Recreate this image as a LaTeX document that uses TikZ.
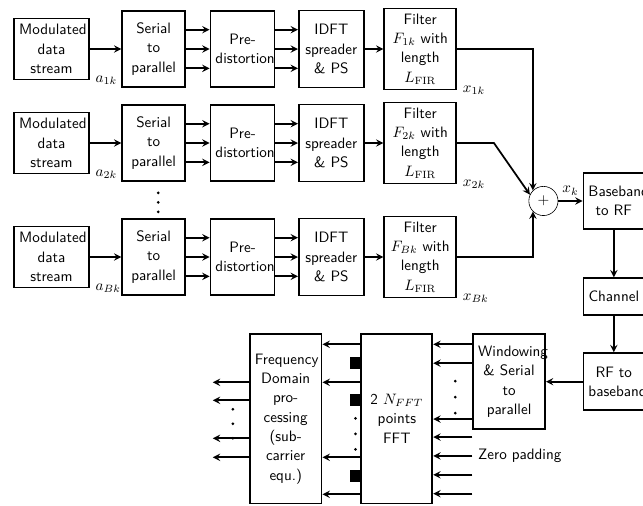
\documentclass[tikz,border=0pt]{standalone}
\usepackage{amsmath}
\usepackage{amssymb}
\usetikzlibrary{positioning}

\begin{document}
\begin{tikzpicture}[->,>=stealth,line width=1.15pt,node distance=2.07cm,font=\sffamily,
    box/.style 2 args={draw,rectangle,align=center,text width=#1,minimum height=#2,
      font=\sffamily\fontsize{10}{12.8}\selectfont},
    sum/.style={draw,thin,circle,minimum size=0.68cm,inner sep=0pt},
    sq/.style={fill,rectangle,minimum size=0.28cm,inner sep=0pt},
    lbl/.style={anchor=west}]
  \useasboundingbox (0,0) rectangle (14.98,-11.77);

  % branch 1
  \node[box={1.51cm}{1.42cm}] (mod1) at (1.2,-1.142) {Modulated\\data\\stream};
  \node[box={1.23cm}{1.77cm}] (sp1) [node distance=2.38cm,right of=mod1] {Serial\\to\\parallel};
  \node[box={1.26cm}{1.77cm}] (pre1) [right of=sp1] {Pre-\\distortion};
  \node[box={1.28cm}{1.79cm}] (idft1) [right of=pre1] {IDFT\\spreader\\\& PS};
  \node[box={1.44cm}{1.89cm}] (fil1) [right of=idft1] {Filter\\$F_{1k}$ with\\length\\$L_{\mathrm{FIR}}$};
  \node[lbl] (a1) at (mod1.south east) {$a_{1k}$};
  \node[lbl] (x1) at (fil1.south east) {$x_{1k}$};

  % branch 2
  \node[box={1.51cm}{1.42cm}] (mod2) [node distance=2.19cm,below of=mod1] {Modulated\\data\\stream};
  \node[box={1.23cm}{1.77cm}] (sp2) [node distance=2.38cm,right of=mod2] {Serial\\to\\parallel};
  \node[box={1.26cm}{1.77cm}] (pre2) [right of=sp2] {Pre-\\distortion};
  \node[box={1.28cm}{1.79cm}] (idft2) [right of=pre2] {IDFT\\spreader\\\& PS};
  \node[box={1.44cm}{1.89cm}] (fil2) [right of=idft2] {Filter\\$F_{2k}$ with\\length\\$L_{\mathrm{FIR}}$};
  \node[lbl] (a2) at (mod2.south east) {$a_{2k}$};
  \node[lbl] (x2) at (fil2.south east) {$x_{2k}$};

  % branch B
  \node[box={1.51cm}{1.42cm}] (mod3) [node distance=2.656cm,below of=mod2] {Modulated\\data\\stream};
  \node[box={1.23cm}{1.77cm}] (sp3) [node distance=2.38cm,right of=mod3] {Serial\\to\\parallel};
  \node[box={1.26cm}{1.77cm}] (pre3) [right of=sp3] {Pre-\\distortion};
  \node[box={1.28cm}{1.79cm}] (idft3) [right of=pre3] {IDFT\\spreader\\\& PS};
  \node[box={1.44cm}{1.89cm}] (fil3) [right of=idft3] {Filter\\$F_{Bk}$ with\\length\\$L_{\mathrm{FIR}}$};
  \node[lbl] (a3) at (mod3.south east) {$a_{Bk}$};
  \node[lbl] (x3) at (fil3.south east) {$x_{Bk}$};

  \foreach \r in {1,2,3}{
    \path (mod\r) edge (sp\r)
          (idft\r) edge (fil\r);
    \foreach \dy in {0.45,0,-0.45}{
      \draw ([yshift=\dy cm]sp\r.east) -- ([yshift=\dy cm]sp\r.east -| pre\r.west);
      \draw ([yshift=\dy cm]pre\r.east) -- ([yshift=\dy cm]pre\r.east -| idft\r.west);
    }
  }
  \foreach \dy in {-0.256,-0.478,-0.699}
    \fill[-] ([xshift=0.105cm,yshift=\dy cm]sp2.south) circle (1pt);

  % sum and RF chain
  \node[sum,xshift=2.87cm,yshift=-1.35cm] (sum) at (fil2) {$+$};
  \node[box={1.18cm}{1.3cm}] (bb) [node distance=1.64cm,right of=sum] {Baseband\\to RF};
  \node[box={1.18cm}{0.86cm}] (ch) [node distance=2.23cm,below of=bb] {Channel};
  \node[box={1.18cm}{1.33cm}] (rf) [node distance=1.98cm,below of=ch] {RF to\\baseband};
  \node[box={1.44cm}{2.21cm}] (win) [node distance=2.44cm,left of=rf] {Windowing\\\& Serial\\to\\parallel};
  \node[box={1.42cm}{3.94cm},anchor=north east] (fft) at ([xshift=-0.91cm]win.north west) {2 $N_{FFT}$\\points\\FFT};
  \node[box={1.44cm}{3.94cm}] (freq) [left=0.885cm of fft] {Frequency\\Domain\\pro-\\cessing\\(sub-\\carrier\\equ.)};

  \draw (fil1.east) -| (sum.north west);
  \draw (fil2.east) -- ++(0.86,0) -- (sum.155);
  \draw (fil3.east) -| (sum.south west);
  \path (sum) edge node[above] (xk) {$x_k$} (bb)
        (bb) edge (ch)
        (ch) edge (rf)
        (rf) edge (win);

  % receiver
  \foreach \dy in {0.87,0.43,-0.87}
    \draw ([yshift=\dy cm]win.west) -- ([yshift=\dy cm]win.west -| fft.east);
  \foreach \dy in {0.012,-0.361,-0.733}
    \fill[-] ([xshift=-0.396cm,yshift=\dy cm]win.west) circle (1pt);
  \foreach \dy in {-1.29,-1.73,-2.17,-2.61}
    \draw ([yshift=\dy cm]win.west) -- ([yshift=\dy cm]win.west -| fft.east);
  \node[right] (zp) at ([yshift=-1.73cm]win.west) {Zero padding};

  \foreach \dy in {1.736,0.85,-0.897,-1.759}
    \draw ([yshift=\dy cm]fft.west) -- ([yshift=\dy cm]fft.west -| freq.east);
  \node[sq] (sq1) at ([xshift=-0.093cm,yshift=1.293cm]fft.west) {};
  \node[sq] (sq2) at ([xshift=-0.093cm,yshift=0.431cm]fft.west) {};
  \node[sq] (sq3) at ([xshift=-0.093cm,yshift=-1.34cm]fft.west) {};
  \foreach \dy in {0.012,-0.35,-0.71}
    \fill[-] ([xshift=-0.116cm,yshift=\dy cm]fft.west) circle (1pt);

  \foreach \dy in {0.85,0.431,-0.454,-0.897}
    \draw ([yshift=\dy cm]freq.west) -- ++(-0.84,0);
  \foreach \dy in {0.221,-0.117,-0.454}
    \fill[-] ([xshift=-0.373cm,yshift=\dy cm]freq.west) circle (1pt);
\end{tikzpicture}
\end{document}
